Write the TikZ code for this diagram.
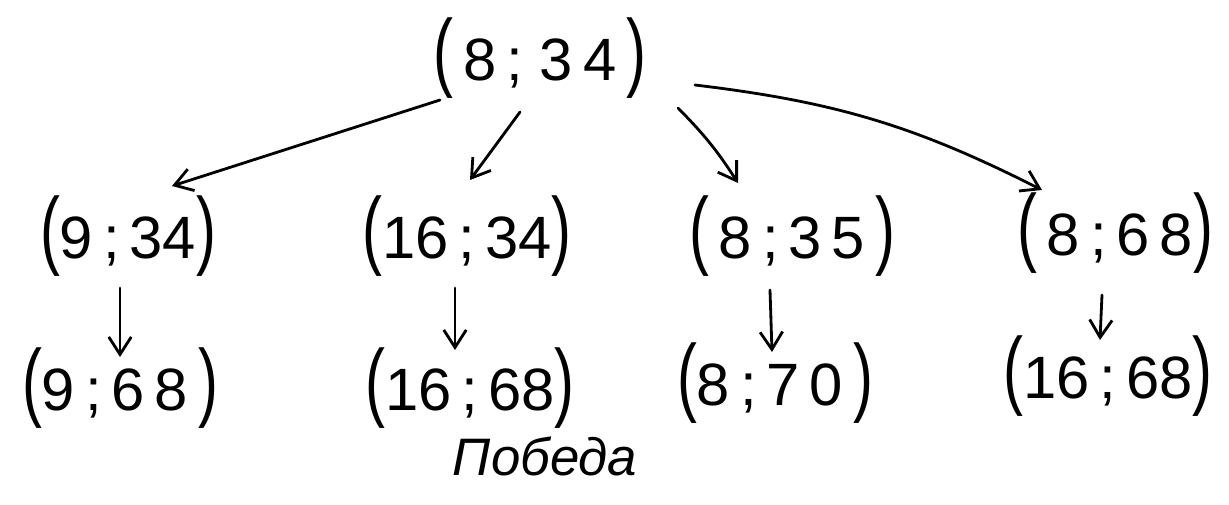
\documentclass[tikz,border=0pt]{standalone}
\usepackage{fontspec}
\usepackage{graphicx}
\setmainfont{Liberation Sans}
\usetikzlibrary{arrows.meta,calc}
% tall pair brackets around each pair
\newcommand\LB{\scalebox{1}[1.45]{(}}
\newcommand\RB{\scalebox{1}[1.45]{)}}
\begin{document}
\begin{tikzpicture}[
  state/.style={inner sep=0pt, anchor=base, font=\fontsize{34}{38}\selectfont},
  note/.style={inner sep=0pt, anchor=base, font=\itshape\fontsize{30}{34}\selectfont},
  move/.style={line width=1.6pt, line cap=round, -{Straight Barb[length=3.5mm,width=4.5mm,line width=1.6pt]}}
]
\useasboundingbox (0,0) rectangle (24.58,-10.1);

% root and the four first moves
\node[state] (root) at (10.8,-1.6) {\LB\,8\,;\;3\,4\,\RB};
\node[state] (a) at (2.56,-5.16) {\LB 9\,;\,34\RB};
\node[state] (b) at (9.34,-5.16) {\LB 16\,;\,34\RB};
\node[state] (c) at (15.84,-5.16) {\LB\,8\,;\,3\,5\,\RB};
\node[state] (d) at (22.3,-5.1) {\LB\,8\,;\,6\,8\RB};

% second moves
\node[state] (a2) at (2.4,-8.2) {\LB 9\,;\,6\,8\,\RB};
\node[state] (b2) at (9.4,-8.2) {\LB 16\,;\,68\RB};
\node[state] (c2) at (15.5,-8.1) {\LB 8\,;\,7\,0\,\RB};
\node[state] (d2) at (22.16,-7.96) {\LB 16\,;\,68\RB};

\node[note] (win) at (10.9,-9.5) {Победа};

% branches from the root (offsets measured from the baselines)
\draw[move] ($(root.base)+(-2.0,-0.4)$) -- ($(a.base)+(0.88,1.44)$);
\draw[move] ($(root.base)+(-0.4,-0.64)$) -- ($(b.base)+(0.06,1.56)$);
\draw[move] ($(root.base)+(2.76,-0.56)$) to[bend left=6] ($(c.base)+(-1.08,1.5)$);
\draw[move] ($(root.base)+(3.1,-0.1)$) to[bend left=10] ($(d.base)+(-1.46,1.3)$);

% single replies
\draw[move] ($(a.base)+(-0.16,-0.6)$) -- ($(a2.base)+(0,1.06)$);
\draw[move] ($(b.base)+(-0.24,-0.6)$) -- ($(b2.base)+(-0.3,1.2)$);
\draw[move] ($(c.base)+(-0.44,-0.64)$) -- ($(c2.base)+(-0.06,1.06)$);
\draw[move] ($(d.base)+(-0.26,-0.8)$) -- ($(d2.base)+(-0.16,1.16)$);
\end{tikzpicture}
\end{document}
